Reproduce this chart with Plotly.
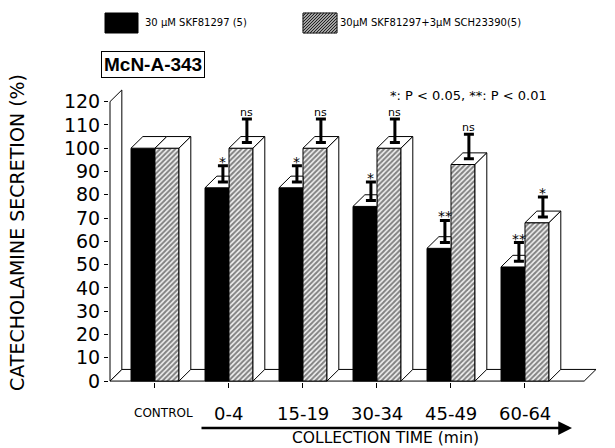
import plotly.graph_objects as go

# ---------------- data ----------------
categories = ["CONTROL", "0-4", "15-19", "30-34", "45-49", "60-64"]
skf = [100, 83, 83, 75, 57, 49]            # 30 uM SKF81297
skf_se = [0, 7, 7, 8, 9.5, 8]
skf_sch = [100, 100, 100, 100, 93, 68]     # + 3 uM SCH23390
skf_sch_se = [0, 10, 10, 10, 10.5, 8.5]
skf_sig = ["", "*", "*", "*", "**", "**"]
skf_sch_sig = ["", "ns", "ns", "ns", "ns", "*"]
y_ticks = list(range(0, 121, 10))

# ---------------- layout constants ----------------
FONT = "DejaVu Sans"
W_PX, H_PX = 615, 448
L, R, T, B = 109, 17, 83, 66
PX_PER_UNIT_X = 74.0
X0 = -0.6215
X1 = X0 + (W_PX - L - R) / PX_PER_UNIT_X
Y0, Y1 = -0.4, 128
WALL_X = -0.608
FLOOR_RIGHT = 5.8
DX, DY = 0.16, 5.0          # pseudo-3D depth offset (data units)
BAR_W = 0.324
BARGAP = 1 - 2 * BAR_W

PW = W_PX - L - R
PH = H_PX - T - B


def pxx(px):
    return (px - L) / PW


def pxy(py):
    return (H_PX - B - py) / PH


xs = list(range(len(categories)))

fig = go.Figure()

# bars
fig.add_trace(go.Bar(
    x=xs, y=skf, name="30 \u00b5M SKF81297 (5)",
    marker=dict(color="black", line=dict(color="black", width=1)),
    showlegend=False,
))
fig.add_trace(go.Bar(
    x=xs, y=skf_sch, name="30\u00b5M SKF81297+3\u00b5M SCH23390(5)",
    marker=dict(color="white", line=dict(color="black", width=1),
                pattern=dict(shape="/", fgcolor="#111111", bgcolor="#f4f4f4",
                             size=3.6, solidity=0.55)),
    showlegend=False,
))

# pseudo-3D faces derived from the data
face = dict(mode="lines", fill="toself", fillcolor="white",
            line=dict(color="black", width=1), hoverinfo="skip", showlegend=False)
for i, (vb, vh) in enumerate(zip(skf, skf_sch)):
    xl, xr = i - BAR_W, i
    if vh > vb:
        fx = [xl, xr, xr, xl + DX, xl]
    else:
        fx = [xl, xr, xr + DX, xl + DX, xl]
    fy = [vb, vb, vb + DY, vb + DY, vb]
    fig.add_trace(go.Scatter(x=fx, y=fy, **face))
    xl, xr = i, i + BAR_W
    fig.add_trace(go.Scatter(x=[xl, xr, xr + DX, xl + DX, xl],
                             y=[vh, vh, vh + DY, vh + DY, vh], **face))
    fig.add_trace(go.Scatter(x=[xr, xr, xr + DX, xr + DX, xr],
                             y=[0, vh, vh + DY, DY, 0], **face))

# error bars (from the top-face centre)
err = dict(type="data", symmetric=False, thickness=3, width=5, color="black")
ex_b = [i - BAR_W / 2 + DX / 2 for i in xs[1:]]
ey_b = [v + DY / 2 for v in skf[1:]]
ex_h = [i + BAR_W / 2 + DX / 2 for i in xs[1:]]
ey_h = [v + DY / 2 for v in skf_sch[1:]]
fig.add_trace(go.Scatter(x=ex_b, y=ey_b, mode="markers", marker=dict(size=1, opacity=0),
                         error_y=dict(array=skf_se[1:], arrayminus=[0] * 5, **err),
                         showlegend=False, hoverinfo="skip"))
fig.add_trace(go.Scatter(x=ex_h, y=ey_h, mode="markers", marker=dict(size=1, opacity=0),
                         error_y=dict(array=skf_sch_se[1:], arrayminus=[0] * 5, **err),
                         showlegend=False, hoverinfo="skip"))

annotations = []


def sig_font(t):
    return dict(family=FONT, size=11 if t == "ns" else 14, color="black")


for x, y, s, t in zip(ex_b, ey_b, skf_se[1:], skf_sig[1:]):
    annotations.append(dict(x=x, y=y + s, text=t, showarrow=False, yanchor="bottom",
                            xanchor="center", yshift=(-6 if "*" in t else -2), font=sig_font(t)))
for x, y, s, t in zip(ex_h, ey_h, skf_sch_se[1:], skf_sch_sig[1:]):
    annotations.append(dict(x=x, y=y + s, text=t, showarrow=False, yanchor="bottom",
                            xanchor="center", yshift=(-6 if "*" in t else -2), font=sig_font(t)))

# category labels
for i, c in enumerate(categories):
    annotations.append(dict(x=i, y=0, text=c, showarrow=False, yanchor="middle",
                            xanchor="center", yshift=-32, xshift=(9 if i == 0 else 0),
                            font=dict(family=FONT, size=12 if i == 0 else 18, color="black")))

P = dict(xref="paper", yref="paper", showarrow=False, xanchor="center", yanchor="middle")
annotations += [
    dict(x=pxx(17), y=pxy(233), text="CATECHOLAMINE SECRETION (%)", textangle=-90,
         font=dict(family=FONT, size=19, color="black"), **P),
    dict(x=pxx(385), y=pxy(448), text="COLLECTION TIME (min)", xref="paper", yref="paper",
         showarrow=False, xanchor="center", yanchor="bottom", borderpad=0,
         font=dict(family=FONT, size=15.5, color="black")),
    dict(x=pxx(153), y=pxy(64), text="<b>McN-A-343</b>",
         bordercolor="black", borderwidth=1, borderpad=2, bgcolor="white",
         font=dict(family="Liberation Sans", size=19, color="black"), **P),
    dict(x=pxx(388), y=pxy(96), xref="paper", yref="paper", xanchor="left", yanchor="middle",
         text="*: P &lt; 0.05, **: P &lt; 0.01", showarrow=False,
         font=dict(family=FONT, size=13, color="black")),
    dict(x=pxx(143), y=pxy(23), xref="paper", yref="paper", xanchor="left", yanchor="middle",
         text="30 \u00b5M SKF81297 (5)", showarrow=False,
         font=dict(family=FONT, size=10, color="black")),
    dict(x=pxx(338), y=pxy(23), xref="paper", yref="paper", xanchor="left", yanchor="middle",
         text="30\u00b5M SKF81297+3\u00b5M SCH23390(5)", showarrow=False,
         font=dict(family=FONT, size=10, color="black")),
    dict(x=pxx(572), y=pxy(428), xref="paper", yref="paper", text="", showarrow=True,
         ax=-372, ay=0, arrowhead=2, arrowsize=1.1, arrowwidth=2.5, arrowcolor="black"),
]

shapes = [
    dict(type="path", xref="x", yref="y", layer="below",
         path=f"M{WALL_X},0 L{FLOOR_RIGHT},0 L{FLOOR_RIGHT + DX},{DY} L{WALL_X + DX},{DY} Z",
         fillcolor="white", line=dict(color="black", width=1)),
    dict(type="path", xref="x", yref="y", layer="below",
         path=f"M{WALL_X},0 L{WALL_X},{y_ticks[-1]} L{WALL_X + DX},{y_ticks[-1] + DY} "
              f"L{WALL_X + DX},{DY} Z",
         fillcolor="white", line=dict(color="black", width=1)),
    dict(type="rect", xref="paper", yref="paper", x0=pxx(105), x1=pxx(138),
         y0=pxy(33), y1=pxy(13), fillcolor="black", line=dict(color="black", width=1)),
    dict(type="rect", xref="paper", yref="paper", x0=pxx(303), x1=pxx(337),
         y0=pxy(33), y1=pxy(13), fillcolor="white", line=dict(color="black", width=1)),
]
lx0, ly0, lw, lh = 303, 33, 34, 20
segs = []
c = -lh
while c < lw:
    xa, xb = max(c, 0), min(lw, lh + c)
    segs.append(f"M{pxx(lx0 + xa)},{pxy(ly0 - (xa - c))} L{pxx(lx0 + xb)},{pxy(ly0 - (xb - c))}")
    c += 3
shapes.append(dict(type="path", xref="paper", yref="paper", path=" ".join(segs),
                   line=dict(color="#222222", width=1.2)))

fig.update_layout(
    width=W_PX, height=H_PX,
    margin=dict(l=L, r=R, t=T, b=B),
    paper_bgcolor="white", plot_bgcolor="white",
    barmode="group", bargap=BARGAP, bargroupgap=0,
    showlegend=False,
    annotations=annotations, shapes=shapes,
    font=dict(family=FONT, color="black"),
    xaxis=dict(range=[X0, X1], tickvals=xs, ticktext=[""] * len(xs), ticks="outside",
               ticklen=5, tickcolor="black", showgrid=False, zeroline=False, showline=False),
    yaxis=dict(range=[Y0, Y1], tickvals=y_ticks, ticks="outside", ticklen=4,
               tickcolor="black", showgrid=False, zeroline=False, showline=False,
               tickfont=dict(family=FONT, size=19, color="black")),
)

fig.write_html("out.html", config={"displayModeBar": False},
               post_script="document.body.style.margin='0';document.body.style.overflow='hidden';")
